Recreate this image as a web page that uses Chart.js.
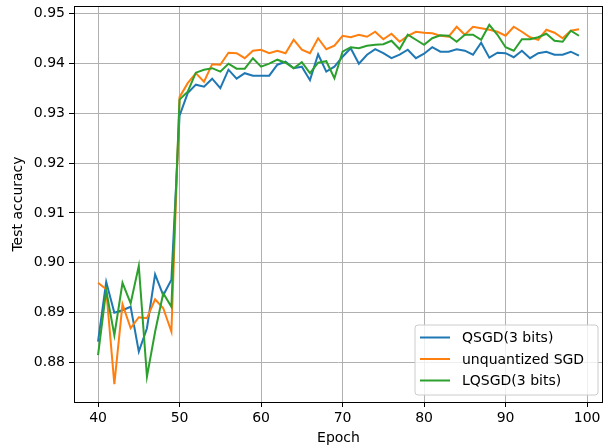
<!DOCTYPE html>
<html>
<head>
<meta charset="utf-8">
<script src="https://cdn.jsdelivr.net/npm/chart.js@4/dist/chart.umd.min.js"></script>
<style>
  html, body { margin: 0; padding: 0; background: #fff; }
  #wrap { width: 604px; height: 448px; }
</style>
</head>
<body>
<div id="wrap"><canvas id="chart--acc" width="604" height="448"></canvas></div>
<script>
const epochs = [40, 41, 42, 43, 44, 45, 46, 47, 48, 49,
    50, 51, 52, 53, 54, 55, 56, 57, 58, 59,
    60, 61, 62, 63, 64, 65, 66, 67, 68, 69,
    70, 71, 72, 73, 74, 75, 76, 77, 78, 79,
    80, 81, 82, 83, 84, 85, 86, 87, 88, 89,
    90, 91, 92, 93, 94, 95, 96, 97, 98, 99];

const qsgd = [0.8842, 0.8962, 0.8900, 0.8905, 0.8912, 0.8822, 0.8869, 0.8977, 0.8935, 0.8966,
    0.9295, 0.9340, 0.9357, 0.9353, 0.9369, 0.9350, 0.9387, 0.9369, 0.9380, 0.9375,
    0.9375, 0.9375, 0.9397, 0.9403, 0.9390, 0.9393, 0.9366, 0.9418, 0.9383, 0.9393,
    0.9413, 0.9430, 0.9399, 0.9417, 0.9428, 0.9420, 0.9410, 0.9417, 0.9427, 0.9410,
    0.9419, 0.9432, 0.9423, 0.9423, 0.9428, 0.9425, 0.9417, 0.9441, 0.9411, 0.9421,
    0.9420, 0.9412, 0.9425, 0.9410, 0.9420, 0.9423, 0.9417, 0.9417, 0.9423, 0.9415];

const sgd = [0.8960, 0.8947, 0.8757, 0.8917, 0.8869, 0.8891, 0.8889, 0.8927, 0.8909, 0.8862,
    0.9332, 0.9360, 0.9380, 0.9363, 0.9398, 0.9397, 0.9421, 0.9420, 0.9410, 0.9425,
    0.9427, 0.9420, 0.9425, 0.9420, 0.9447, 0.9427, 0.9420, 0.9450, 0.9428, 0.9435,
    0.9455, 0.9452, 0.9457, 0.9453, 0.9463, 0.9448, 0.9459, 0.9443, 0.9455, 0.9463,
    0.9461, 0.9460, 0.9455, 0.9453, 0.9473, 0.9457, 0.9473, 0.9470, 0.9467, 0.9463,
    0.9455, 0.9473, 0.9463, 0.9452, 0.9447, 0.9467, 0.9461, 0.9450, 0.9465, 0.9468];

const lqsgd = [0.8815, 0.8945, 0.8855, 0.8960, 0.8919, 0.8994, 0.8772, 0.8862, 0.8939, 0.8912,
    0.9327, 0.9343, 0.9381, 0.9387, 0.9390, 0.9383, 0.9399, 0.9389, 0.9389, 0.9410,
    0.9393, 0.9399, 0.9407, 0.9401, 0.9390, 0.9402, 0.9380, 0.9401, 0.9404, 0.9370,
    0.9423, 0.9432, 0.9430, 0.9435, 0.9437, 0.9438, 0.9445, 0.9428, 0.9457, 0.9447,
    0.9437, 0.9450, 0.9456, 0.9455, 0.9443, 0.9457, 0.9457, 0.9447, 0.9477, 0.9457,
    0.9432, 0.9425, 0.9448, 0.9448, 0.9452, 0.9459, 0.9445, 0.9443, 0.9465, 0.9455];

const xTicks = [40, 50, 60, 70, 80, 90, 100];
const yTicks = [0.88, 0.89, 0.90, 0.91, 0.92, 0.93, 0.94, 0.95];
const seriesNames = ['QSGD(3 bits)', 'unquantized SGD', 'LQSGD(3 bits)'];
const seriesColors = ['#1f77b4', '#ff7f0e', '#2ca02c'];

function points(ys) {
    return epochs.map((e, i) => ({ x: e, y: ys[i] }));
}

Chart.defaults.font.family = 'DejaVu Sans';
Chart.defaults.font.size = 14;
Chart.defaults.color = '#000';

// frame, axis titles and the legend box inside the plot
const mplDecor = {
    id: 'mplDecor',
    afterDraw(chart) {
        const ctx = chart.ctx;
        const a = chart.chartArea;
        ctx.save();
        ctx.strokeStyle = '#000';
        ctx.lineWidth = 1;
        ctx.strokeRect(Math.round(a.left) + 0.5, Math.round(a.top) + 0.5,
            Math.round(a.right - a.left) - 1, Math.round(a.bottom - a.top));

        ctx.fillStyle = '#000';
        ctx.font = '14px "DejaVu Sans"';
        ctx.textAlign = 'center';
        ctx.textBaseline = 'middle';
        ctx.fillText('Epoch', (a.left + a.right) / 2, 438);
        ctx.save();
        ctx.translate(18, (a.top + a.bottom) / 2);
        ctx.rotate(-Math.PI / 2);
        ctx.fillText('Test accuracy', 0, 0);
        ctx.restore();

        // legend
        const bx = 415, by = 325, bw = 183, bh = 70, r = 3;
        ctx.beginPath();
        ctx.moveTo(bx + r, by);
        ctx.arcTo(bx + bw, by, bx + bw, by + bh, r);
        ctx.arcTo(bx + bw, by + bh, bx, by + bh, r);
        ctx.arcTo(bx, by + bh, bx, by, r);
        ctx.arcTo(bx, by, bx + bw, by, r);
        ctx.closePath();
        ctx.fillStyle = 'rgba(255,255,255,0.8)';
        ctx.fill();
        ctx.strokeStyle = '#cccccc';
        ctx.stroke();

        const rows = [337.5, 359, 380.5];
        ctx.textAlign = 'left';
        seriesNames.forEach((name, i) => {
            ctx.strokeStyle = seriesColors[i];
            ctx.lineWidth = 2;
            ctx.beginPath();
            ctx.moveTo(420, rows[i]);
            ctx.lineTo(450, rows[i]);
            ctx.stroke();
            ctx.fillStyle = '#000';
            ctx.fillText(name, 462, rows[i] + 1);
        });
        ctx.restore();
    }
};

const config_acc = {
    type: 'line',
    data: {
        datasets: [
            { label: seriesNames[0], data: points(qsgd), borderColor: seriesColors[0], order: 3 },
            { label: seriesNames[1], data: points(sgd), borderColor: seriesColors[1], order: 2 },
            { label: seriesNames[2], data: points(lqsgd), borderColor: seriesColors[2], order: 1 }
        ]
    },
    options: {
        responsive: false,
        animation: false,
        layout: { padding: { top: 6, right: 1, left: 0, bottom: 0 } },
        elements: {
            line: { borderWidth: 2, tension: 0, fill: false },
            point: { radius: 0 }
        },
        plugins: {
            legend: { display: false },
            tooltip: { enabled: false }
        },
        scales: {
            x: {
                type: 'linear',
                min: 37.05,
                max: 101.95,
                afterBuildTicks: (s) => { s.ticks = xTicks.map(v => ({ value: v })); },
                afterFit: (s) => { s.height = 46; s.paddingLeft = 0; s.paddingRight = 0; },
                grid: { color: '#b0b0b0', lineWidth: 1, tickLength: 5, tickColor: '#000', tickWidth: 1 },
                border: { display: false },
                ticks: { padding: 3, maxRotation: 0, callback: (v) => String(v) }
            },
            y: {
                type: 'linear',
                min: 0.87212,
                max: 0.95146,
                afterBuildTicks: (s) => { s.ticks = yTicks.map(v => ({ value: v })); },
                afterFit: (s) => { s.width = 74; s.paddingTop = 0; s.paddingBottom = 0; },
                grid: { color: '#b0b0b0', lineWidth: 1, tickLength: 5, tickColor: '#000', tickWidth: 1 },
                border: { display: false },
                ticks: { padding: 4, callback: (v) => v.toFixed(2) }
            }
        }
    },
    plugins: [mplDecor]
};

var chartacc = new Chart(document.getElementById('chart--acc'), config_acc);
</script>
</body>
</html>
